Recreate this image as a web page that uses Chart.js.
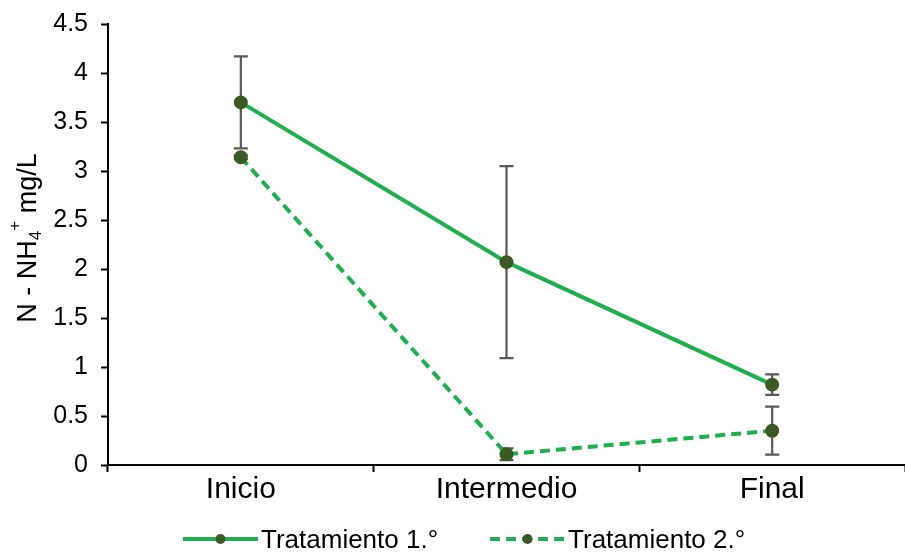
<!DOCTYPE html>
<html>
<head>
<meta charset="utf-8">
<script src="https://cdn.jsdelivr.net/npm/chart.js@4.4.1/dist/chart.umd.min.js"></script>
<style>
  html, body { margin: 0; padding: 0; background: #fff; }
  #wrap { width: 905px; height: 553px; }
</style>
</head>
<body>
<div id="wrap"><canvas id="chart" width="905" height="553"></canvas></div>
<script>
// categories and values
const stages = ['Inicio', 'Intermedio', 'Final'];
const trat1 = [3.70, 2.07, 0.82];
const trat1Err = [0.47, 0.98, 0.105];
const trat2 = [3.14, 0.11, 0.35];
const trat2Err = [0.02, 0.06, 0.245];
const yTicks = [0, 0.5, 1, 1.5, 2, 2.5, 3, 3.5, 4, 4.5];

const lineGreen = '#1fb04e';
const dotGreen = '#3b5a23';
const barGrey = '#595959';
const font = 'Arial, "Liberation Sans", sans-serif';

// error bars, drawn through the y scale
const errorBars = {
  id: 'errorBars',
  beforeDatasetsDraw(chart) {
    const ctx = chart.ctx;
    const y = chart.scales.y;
    chart.data.datasets.forEach((ds, di) => {
      const meta = chart.getDatasetMeta(di);
      ds.data.forEach((v, i) => {
        const e = ds.errors[i];
        const x = meta.data[i].x;
        const top = y.getPixelForValue(v + e);
        const bot = y.getPixelForValue(v - e);
        ctx.save();
        ctx.strokeStyle = barGrey;
        ctx.lineWidth = 2.2;
        ctx.beginPath();
        ctx.moveTo(x, top); ctx.lineTo(x, bot);
        ctx.moveTo(x - 7, top); ctx.lineTo(x + 7, top);
        ctx.moveTo(x - 7, bot); ctx.lineTo(x + 7, bot);
        ctx.stroke();
        ctx.restore();
      });
    });
  }
};

// y axis title with subscript 4 and superscript +
const yTitle = {
  id: 'yTitle',
  afterDraw(chart) {
    const ctx = chart.ctx;
    const parts = [
      { t: 'N - NH', size: 27, dy: 0 },
      { t: '4', size: 17, dy: 5 },
      { t: '+', size: 17, dy: -16 },
      { t: ' mg/L', size: 27, dy: 0 }
    ];
    ctx.save();
    let total = 0;
    parts.forEach(p => {
      ctx.font = p.size + 'px ' + font;
      p.w = ctx.measureText(p.t).width;
      total += p.w;
    });
    ctx.translate(36, 238);
    ctx.rotate(-Math.PI / 2);
    ctx.fillStyle = '#000';
    let x = -total / 2;
    parts.forEach(p => {
      ctx.font = p.size + 'px ' + font;
      ctx.fillText(p.t, x, p.dy);
      x += p.w;
    });
    ctx.restore();
  }
};

// legend: line sample with dot, then the label
const legendRow = {
  id: 'legendRow',
  afterDraw(chart) {
    const ctx = chart.ctx;
    const y = 539;
    let x = 183;
    ctx.save();
    ctx.font = '26px ' + font;
    ctx.textBaseline = 'alphabetic';
    chart.data.datasets.forEach(ds => {
      ctx.strokeStyle = ds.borderColor;
      ctx.lineWidth = 4;
      ctx.setLineDash(ds.borderDash || []);
      ctx.beginPath();
      ctx.moveTo(x, y); ctx.lineTo(x + 75, y);
      ctx.stroke();
      ctx.setLineDash([]);
      ctx.fillStyle = dotGreen;
      ctx.beginPath();
      ctx.arc(x + 37.5, y, 5, 0, Math.PI * 2);
      ctx.fill();
      ctx.fillStyle = '#000';
      ctx.fillText(ds.label, x + 78, 548);
      x += 78 + ctx.measureText(ds.label).width + 52;
    });
    ctx.restore();
  }
};

new Chart(document.getElementById('chart'), {
  type: 'line',
  data: {
    labels: stages,
    datasets: [
      {
        label: 'Tratamiento 1.°',
        data: trat1,
        errors: trat1Err,
        borderColor: lineGreen,
        borderWidth: 4,
        pointBackgroundColor: dotGreen,
        pointBorderColor: dotGreen,
        pointRadius: 5,
        tension: 0
      },
      {
        label: 'Tratamiento 2.°',
        data: trat2,
        errors: trat2Err,
        borderColor: lineGreen,
        borderWidth: 4,
        borderDash: [10, 6],
        pointBackgroundColor: dotGreen,
        pointBorderColor: dotGreen,
        pointRadius: 5,
        tension: 0
      }
    ]
  },
  options: {
    responsive: false,
    animation: false,
    layout: { autoPadding: false, padding: { top: 24, right: -3, left: 0, bottom: 45 } },
    scales: {
      x: {
        offset: true,
        grid: { display: true, offset: true, drawOnChartArea: false, tickLength: 7, tickColor: '#000', tickWidth: 2 },
        border: { color: '#000', width: 2 },
        ticks: { color: '#000', font: { size: 30, family: font }, padding: 0 },
        afterFit(scale) {
          scale.height = 43;
          scale.paddingLeft = 0;
          scale.paddingRight = 0;
        }
      },
      y: {
        min: 0,
        max: 4.5,
        afterBuildTicks(scale) { scale.ticks = yTicks.map(v => ({ value: v })); },
        grid: { drawOnChartArea: false, tickLength: 7, tickColor: '#000', tickWidth: 2 },
        border: { color: '#000', width: 2 },
        ticks: {
          color: '#000',
          font: { size: 25, family: font },
          padding: 13,
          callback: v => String(v)
        },
        afterFit(scale) {
          scale.width = 108;
          scale.paddingTop = 0;
        }
      }
    },
    plugins: {
      legend: { display: false },
      tooltip: { enabled: false }
    }
  },
  plugins: [errorBars, yTitle, legendRow]
});
</script>
</body>
</html>
